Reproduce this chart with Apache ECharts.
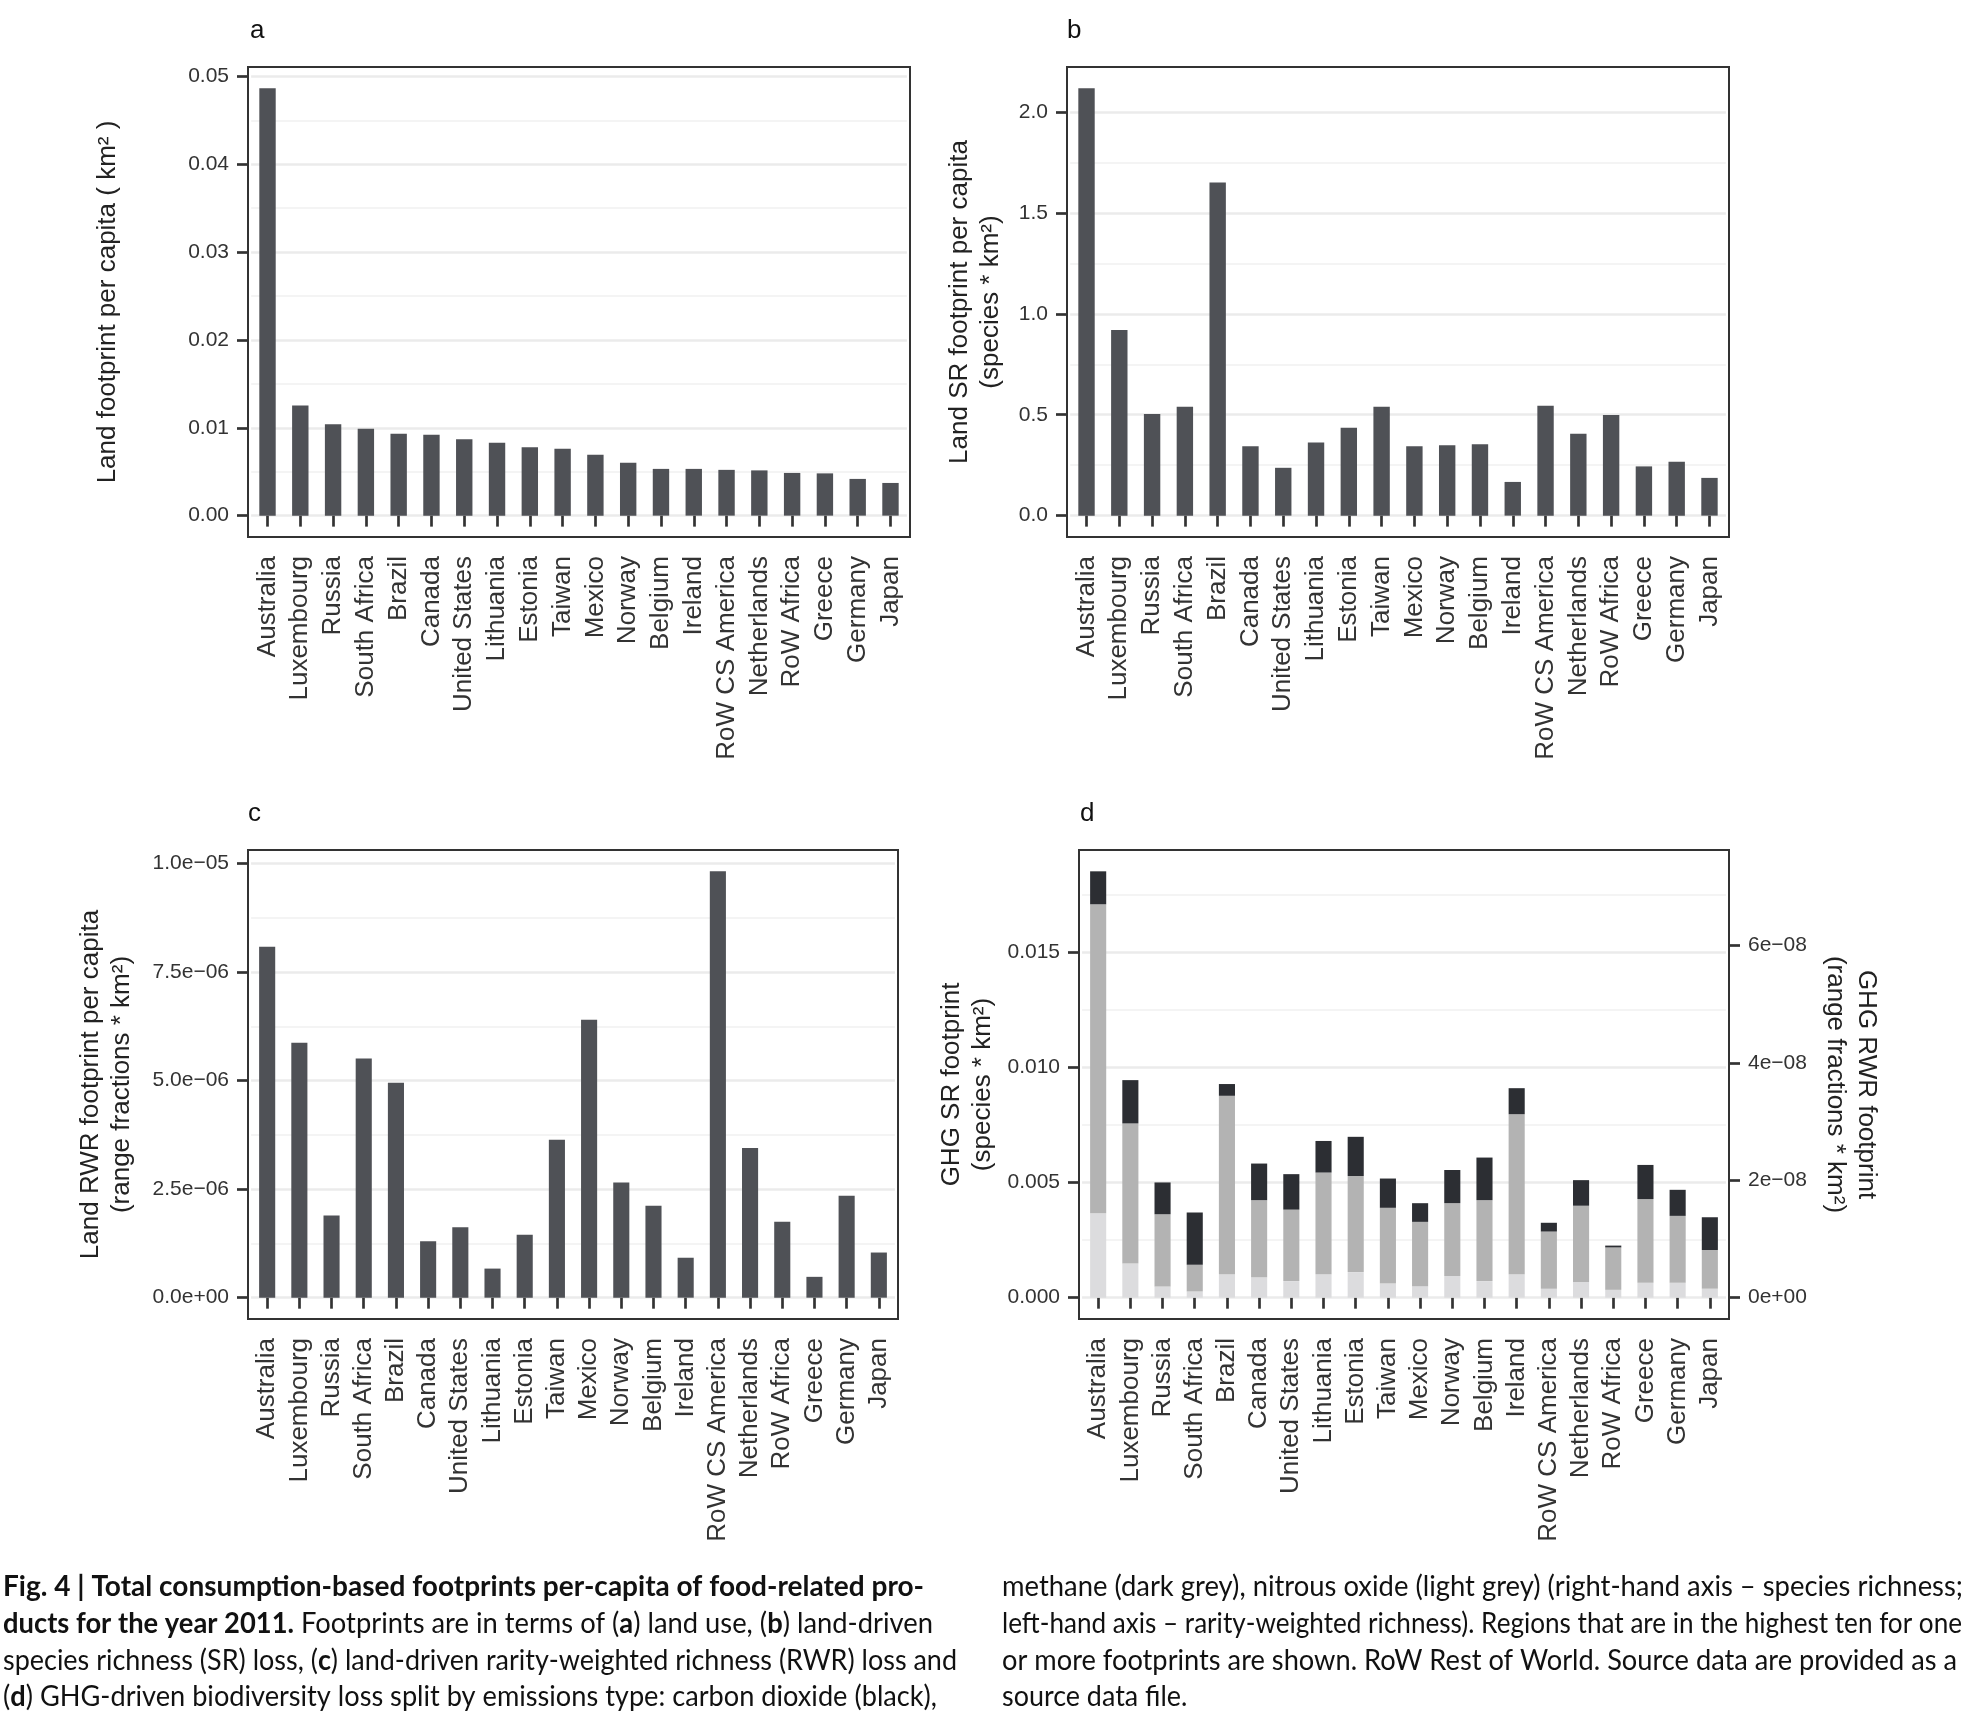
<!DOCTYPE html>
<html><head><meta charset="utf-8">
<script src="https://cdn.jsdelivr.net/npm/echarts@6/dist/echarts.min.js"></script>
<style>html,body{margin:0;padding:0;background:#fff}#c{width:1966px;height:1717px}</style>
</head><body><div id="c"></div>
<script>
// ---------- DATA ----------
const categories = ['Australia','Luxembourg','Russia','South Africa','Brazil','Canada','United States','Lithuania','Estonia','Taiwan','Mexico','Norway','Belgium','Ireland','RoW CS America','Netherlands','RoW Africa','Greece','Germany','Japan'];

// (a) land footprint per capita (km2)
const landFootprint = [0.04863,0.01253,0.01041,0.00990,0.00933,0.00921,0.00870,0.00830,0.00778,0.00761,0.00692,0.00601,0.00532,0.00532,0.00521,0.00515,0.00486,0.00481,0.00418,0.00372];
// (b) land SR footprint per capita
const landSR = [2.117,0.920,0.504,0.539,1.651,0.344,0.237,0.362,0.436,0.539,0.344,0.349,0.354,0.167,0.544,0.406,0.499,0.244,0.267,0.187];
// (c) land RWR footprint per capita
const landRWR = [8.08e-6,5.87e-6,1.89e-6,5.51e-6,4.95e-6,1.30e-6,1.62e-6,0.67e-6,1.45e-6,3.64e-6,6.40e-6,2.65e-6,2.12e-6,0.92e-6,9.82e-6,3.45e-6,1.75e-6,0.48e-6,2.35e-6,1.04e-6];
// (d) GHG SR footprint split by emission type
const ghgN2O = [0.00366,0.00148,0.00049,0.00027,0.00102,0.00089,0.00072,0.00102,0.00111,0.00061,0.00050,0.00094,0.00072,0.00102,0.00039,0.00068,0.00034,0.00065,0.00065,0.00039];
const ghgCH4 = [0.01341,0.00608,0.00313,0.00116,0.00774,0.00334,0.00310,0.00441,0.00417,0.00329,0.00279,0.00316,0.00351,0.00694,0.00248,0.00331,0.00184,0.00363,0.00290,0.00168];
const ghgCO2 = [0.00143,0.00188,0.00138,0.00227,0.00051,0.00159,0.00154,0.00137,0.00170,0.00127,0.00081,0.00144,0.00185,0.00113,0.00038,0.00111,0.00008,0.00148,0.00113,0.00142];

// tick values and labels
const ticksA = [0,0.01,0.02,0.03,0.04,0.05];
const labelsA = ['0.00','0.01','0.02','0.03','0.04','0.05'];
const minorA = [0.005,0.015,0.025,0.035,0.045];
const ticksB = [0,0.5,1,1.5,2];
const labelsB = ['0.0','0.5','1.0','1.5','2.0'];
const minorB = [0.25,0.75,1.25,1.75];
const ticksC = [0,2.5e-6,5e-6,7.5e-6,1e-5];
const labelsC = ['0.0e+00','2.5e\u221206','5.0e\u221206','7.5e\u221206','1.0e\u221205'];
const minorC = [1.25e-6,3.75e-6,6.25e-6,8.75e-6];
const ticksD = [0,0.005,0.01,0.015];
const labelsD = ['0.000','0.005','0.010','0.015'];
const minorD = [0.0025,0.0075,0.0125,0.0175];
const ticksD2 = [0,2e-8,4e-8,6e-8];
const labelsD2 = ['0e+00','2e\u221208','4e\u221208','6e\u221208'];
const secAxisFactor = 3.928e-6; // right axis (RWR) = left axis (SR) * factor

const panelLetters = ['a','b','c','d'];
const yNames = [
  'Land footprint per capita ( km\u00b2 )',
  'Land SR footprint per capita\n(species * km\u00b2)',
  'Land RWR footprint per capita\n(range fractions * km\u00b2)',
  'GHG SR footprint\n(species * km\u00b2)'
];
const yName2 = 'GHG RWR footprint\n(range fractions * km\u00b2)';

const captionLeft = [
  [['Fig. 4 | Total consumption-based footprints per-capita of food-related pro-',1]],
  [['ducts for the year 2011.',1],[' Footprints are in terms of (',0],['a',1],[') land use, (',0],['b',1],[') land-driven',0]],
  [['species richness (SR) loss, (',0],['c',1],[') land-driven rarity-weighted richness (RWR) loss and',0]],
  [['(',0],['d',1],[') GHG-driven biodiversity loss split by emissions type: carbon dioxide (black),',0]]
];
const captionRight = [
  [['methane (dark grey), nitrous oxide (light grey) (right-hand axis \u2013 species richness;',0]],
  [['left-hand axis \u2013 rarity-weighted richness). Regions that are in the highest ten for one',0]],
  [['or more footprints are shown. RoW Rest of World. Source data are provided as a',0]],
  [['source data file.',0]]
];

// ---------- LAYOUT ----------
const boxes = [
  {l:248,r:910,t:67,b:537},
  {l:1067,r:1729,t:67,b:537},
  {l:248,r:898,t:850,b:1319},
  {l:1079,r:1729,t:850,b:1319}
];
const nameGaps = [125,61,111,81];
const nameGap2 = 91;
const letterPos = [[250,31],[1067,31],[248,814],[1080,814]];
const N = categories.length;
const FONT = 'Liberation Sans, Arial, Helvetica, sans-serif';
const TICKC = '#333333';

function fmt(ticks, labels){
  return function(v){
    for (let i=0;i<ticks.length;i++){ if (Math.abs(ticks[i]-v) <= Math.abs(ticks[i])*1e-6 + 1e-16) return labels[i]; }
    return '';
  };
}

const panelTicks = [[ticksA,labelsA,minorA],[ticksB,labelsB,minorB],[ticksC,labelsC,minorC],[ticksD,labelsD,minorD]];
const dTotals = ghgN2O.map((v,i)=>v+ghgCH4[i]+ghgCO2[i]);
const panelMax = [Math.max(...landFootprint), Math.max(...landSR), Math.max(...landRWR), Math.max(...dTotals)];

const grids=[], xAxes=[], yAxes=[], series=[], graphics=[];
const mainY = [];
boxes.forEach((bx,p)=>{
  const d = 0.1*(bx.r-bx.l)/(N+1.2);
  grids.push({left:bx.l+d, top:bx.t, width:(bx.r-bx.l)-2*d, height:bx.b-bx.t, containLabel:false, show:false});
  const dmax = panelMax[p];
  const ymin = -0.05*dmax, ymax = 1.05*dmax;
  xAxes.push({type:'category', gridIndex:p, data:categories, boundaryGap:true,
    axisLine:{show:false},
    axisTick:{show:true, alignWithLabel:true, length:11, lineStyle:{color:TICKC, width:2.7}},
    axisLabel:{interval:0, rotate:90, margin:19, fontSize:26, color:'#333', fontFamily:FONT},
    splitLine:{show:false}});
  const [tv,tl,mv] = panelTicks[p];
  // minor grid axis
  yAxes.push({type:'value', gridIndex:p, min:ymin, max:ymax, position:'left',
    axisLine:{show:false}, axisLabel:{show:false},
    axisTick:{show:false, customValues:mv},
    splitLine:{show:true, lineStyle:{color:'#f1f1f1', width:1.7}}});
  mainY.push(yAxes.length);
  yAxes.push({type:'value', gridIndex:p, min:ymin, max:ymax, position:'left', offset:d,
    axisLine:{show:false},
    axisTick:{show:true, length:11, lineStyle:{color:TICKC, width:2.7}, customValues:tv},
    axisLabel:{show:true, customValues:tv, formatter:fmt(tv,tl), fontSize:21, margin:19, color:'#333', fontFamily:FONT},
    splitLine:{show:true, lineStyle:{color:'#ebebeb', width:2.7}},
    name:yNames[p], nameLocation:'middle', nameRotate:90, nameGap:nameGaps[p],
    nameTextStyle:{fontSize:26, fontFamily:FONT, color:'#222', lineHeight:31, align:'center'}});
  if (p===3){
    yAxes.push({type:'value', gridIndex:p, min:ymin*secAxisFactor, max:ymax*secAxisFactor, position:'right', offset:d,
      axisLine:{show:false},
      axisTick:{show:true, length:11, lineStyle:{color:TICKC, width:2.7}, customValues:ticksD2},
      axisLabel:{show:true, customValues:ticksD2, formatter:fmt(ticksD2,labelsD2), fontSize:21, margin:19, color:'#333', fontFamily:FONT},
      splitLine:{show:false},
      name:yName2, nameLocation:'middle', nameRotate:-90, nameGap:nameGap2,
      nameTextStyle:{fontSize:26, fontFamily:FONT, color:'#222', lineHeight:31, align:'center'}});
  }
  graphics.push({type:'rect', z:100, silent:true, shape:{x:bx.l, y:bx.t, width:bx.r-bx.l, height:bx.b-bx.t},
    style:{fill:'none', stroke:'#333', lineWidth:2}});
  graphics.push({type:'text', z:100, x:letterPos[p][0], y:letterPos[p][1],
    style:{text:panelLetters[p], fontSize:26, fontFamily:FONT, fill:'#111', align:'left', verticalAlign:'middle'}});
});

const BAR = '#4f5156';
[landFootprint, landSR, landRWR].forEach((arr,p)=>{
  series.push({type:'bar', xAxisIndex:p, yAxisIndex:mainY[p], data:arr, barWidth:'50%', itemStyle:{color:BAR}, silent:true, animation:false});
});
[[ghgN2O,'#dcdcde','Nitrous oxide'],[ghgCH4,'#b3b3b3','Methane'],[ghgCO2,'#2c2e33','Carbon dioxide']].forEach(([arr,col,nm])=>{
  series.push({type:'bar', name:nm, stack:'ghg', xAxisIndex:3, yAxisIndex:mainY[3], data:arr, barWidth:'50%', itemStyle:{color:col}, silent:true, animation:false});
});

// ---------- CAPTION ----------
const CAPFONT = 'Lato, "Open Sans", sans-serif';
const CAPSIZE = 28;
const ctx = document.createElement('canvas').getContext('2d');
function measure(segs){
  let w=0;
  for (const [t,b] of segs){ ctx.font=(b?'bold ':'')+CAPSIZE+'px '+CAPFONT; w+=ctx.measureText(t).width; }
  return w;
}
function richText(segs){
  return segs.map(([t,b])=>'{'+(b?'b':'n')+'|'+t+'}').join('');
}
const rich = {
  b:{fontWeight:'bold', fontSize:CAPSIZE, fontFamily:CAPFONT, fill:'#111'},
  n:{fontWeight:'normal', fontSize:CAPSIZE, fontFamily:CAPFONT, fill:'#111'}
};
const capBaseY = [1587,1624,1661,1697];
const capCols = [
  {x:3, lines:captionLeft, ends:[924,933,957,937]},
  {x:1002, lines:captionRight, ends:[1963,1962,1957,null]}
];
capCols.forEach(col=>{
  const scales = col.lines.map((segs,i)=> col.ends[i] ? (col.ends[i]-col.x)/measure(segs) : null);
  const valid = scales.filter(s=>s);
  const avg = valid.reduce((a,b)=>a+b,0)/valid.length;
  col.lines.forEach((segs,i)=>{
    graphics.push({type:'text', z:100, x:col.x, y:capBaseY[i], scaleX:scales[i]||avg,
      style:{text:richText(segs), rich:rich, fontSize:CAPSIZE, fontFamily:CAPFONT, fill:'#111', align:'left', verticalAlign:'middle'}});
  });
});

const chart = echarts.init(document.getElementById('c'), null, {renderer:'canvas'});
chart.setOption({
  animation:false,
  backgroundColor:'#ffffff',
  grid:grids, xAxis:xAxes, yAxis:yAxes, series:series, graphic:graphics
});
</script></body></html>
